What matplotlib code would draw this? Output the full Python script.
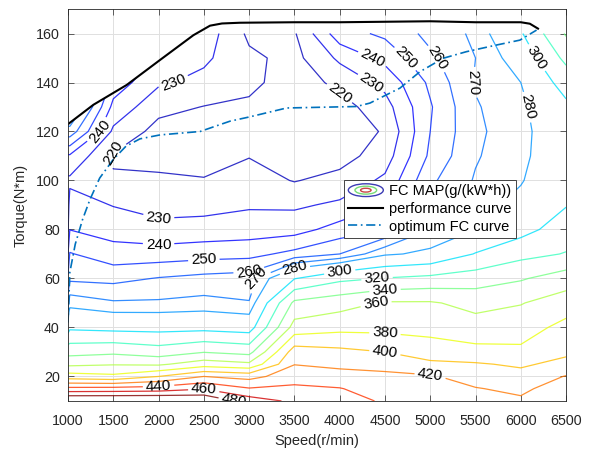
import numpy as np
import matplotlib
matplotlib.use("Agg")
import matplotlib.pyplot as plt
from matplotlib.colors import Normalize
from matplotlib.patches import Ellipse, Polygon
from matplotlib.legend_handler import HandlerBase
from matplotlib.lines import Line2D

plt.rcParams["font.family"] = ["Liberation Sans", "DejaVu Sans"]

# fuel consumption map, g/(kW*h)
speed = [1000, 1020, 1500, 2000, 2500, 3000, 3500, 4000, 4500, 5000, 5500, 6000, 6500]
torque = [10, 15, 20, 25, 30, 40, 50, 60, 70, 80, 90, 100, 110, 120, 130, 140, 150, 160]
fc_10 = [505, 505, 505, 505, 500, 470, 456, 450, 437, 436, 428, 423, 440]
fc_15 = [446, 446, 447, 449, 458.5, 441.5, 444, 441, 430, 430, 421, 416, 430]
fc_20 = [389, 389, 384.4, 400, 420, 413, 431.6, 427, 424, 422, 412, 407, 421]
fc_25 = [355.6, 355.6, 358.6, 356.8, 370.3, 364, 419.4, 415.7, 414, 406, 402, 397, 406]
fc_30 = [332.7, 332.7, 335.9, 329.4, 339, 333.3, 410.1, 405, 400, 386, 386, 384, 396]
fc_40 = [290, 296.5, 293.9, 293.3, 294, 290.9, 367.7, 374, 374, 376, 368, 371, 386]
fc_50 = [265, 276, 271.3, 271.5, 273.1, 270.6, 344.5, 352, 362, 362, 354, 359, 370]
fc_60 = [252, 257.9, 257, 260.6, 263, 264.6, 299.2, 315.3, 321, 325, 330, 338, 350]
fc_70 = [240, 250.7, 244.3, 244.4, 246, 246.8, 252.9, 260, 278, 283, 301, 314, 321]
fc_80 = [229, 239.8, 235.8, 232.9, 233.9, 235.1, 236, 244.1, 250, 270, 280, 293, 310]
fc_90 = [226, 234.1, 229.6, 226.5, 226.7, 228.8, 228.4, 231.8, 240, 263, 275, 284, 299]
fc_100 = [228, 228, 220.9, 221.5, 220.6, 224.2, 219.5, 223.3, 232, 258, 271, 279, 293]
fc_110 = [238.5, 238.5, 219, 217, 216, 219.6, 215, 216, 225, 252, 269, 277, 291]
fc_120 = [266, 266, 228, 216.5, 215, 216, 213, 214, 221, 250, 268, 276, 292]
fc_130 = [285, 285, 237, 223, 219.7, 217.8, 213, 216, 226, 249, 269, 277, 296]
fc_140 = [300, 300, 246, 231.5, 227, 223, 214, 223, 233, 252, 271, 280, 308]
fc_150 = [310, 310, 255, 238, 232, 222, 217, 232, 243, 258, 270, 287, 325]
fc_160 = [320, 320, 265, 244, 236, 218, 219, 246, 252, 263, 272, 298, 342]
fc_levels = [220, 230, 240, 250, 260, 270, 280, 300, 320, 340, 360, 380, 400, 420, 440, 460, 480]

# external characteristic (max torque)
perf_speed = [1000, 1280, 1648, 2016, 2384, 2568, 2700, 2900, 3500, 4000, 4500, 5000, 5500, 6000, 6100, 6190]
perf_torque = [123, 130.9, 139, 149.2, 159.3, 163.2, 164.1, 164.4, 164.6, 164.6, 164.8, 165, 164.6, 164.6, 164, 162]

# optimum fuel consumption line
opt_speed = [1000, 1010, 1020, 1080, 1160, 1243, 1350, 1500, 1640, 1795, 2016, 2458, 2788, 3010,
             3414, 4186, 4334, 4518, 4665, 4886, 5143, 5401, 5732, 5990, 6174]
opt_torque = [42, 52, 62.5, 74, 84, 92.3, 101, 108.6, 114, 117, 118.6, 120, 124.2, 126,
              129.6, 130.2, 131.6, 135, 137.7, 144.4, 149.9, 152.6, 155.3, 157.3, 161.4]

# where the contour labels sit
lab_level = [230, 240, 220, 230, 240, 250, 260, 270, 280, 300, 320, 340, 360, 380, 400, 420,
             440, 460, 480, 220, 230, 240, 250, 260, 270, 280, 300]
lab_x = [2220, 1320, 1500, 1800, 2150, 2650, 2900, 3100, 3430, 4180, 4260, 4334, 4444, 4610, 4592, 4776,
         2000, 2600, 2680, 4003, 4187, 4371, 4630, 5033, 5456, 6210, 6266]
lab_y = [142, 120, 114, 85, 72.7, 68, 64.5, 60, 63, 62, 58, 54.5, 51, 37, 29.4, 20,
         15.5, 13, 10.8, 135, 143.8, 147.8, 150, 147, 138.4, 133, 148]

fc = np.array([fc_10, fc_15, fc_20, fc_25, fc_30, fc_40, fc_50, fc_60, fc_70, fc_80, fc_90,
               fc_100, fc_110, fc_120, fc_130, fc_140, fc_150, fc_160])


class MapIcon(HandlerBase):
    # little concentric ellipses like matlab's contour legend icon
    def create_artists(self, legend, orig_handle, xdescent, ydescent, width, height, fontsize, trans):
        cx = width / 2 - xdescent
        cy = height / 2 - ydescent
        out = []
        for f, c in [(1.0, "#3c3cb4"), (0.62, "#78dc78"), (0.3, "#c84646")]:
            out.append(Ellipse((cx, cy), width * f, height * 1.25 * f, fill=False,
                               edgecolor=c, lw=1.0, transform=trans))
        return out


fig = plt.figure(figsize=(5.94, 4.51), dpi=100)
ax = fig.add_axes([0.1145, 0.111, 0.8385, 0.869])
ax.set_xlim(1000, 6500)
ax.set_ylim(10, 170)

cs = ax.contour(speed, torque, fc, levels=fc_levels, cmap="jet",
                norm=Normalize(205, 480), linewidths=0.9, alpha=0.8)
clip = Polygon(np.column_stack([[1000] + perf_speed + [6500, 6500],
                                [10] + perf_torque + [171, 10]]),
               transform=ax.transData)
cs.set_clip_path(clip)

# snap each label spot onto its own level so clabel picks the right line
for lev, x, y in zip(lab_level, lab_x, lab_y):
    verts = cs.get_paths()[fc_levels.index(lev)].vertices
    if len(verts) == 0:
        continue
    pix = ax.transData.transform(verts)
    p0 = ax.transData.transform((x, y))
    k = np.argmin(((pix - p0) ** 2).sum(axis=1))
    ax.clabel(cs, manual=[tuple(verts[k])], fmt="%d", fontsize=11,
              colors="k", inline=True, inline_spacing=3)

# labels should be solid black, not faded like the lines
for t in ax.texts:
    t.set_alpha(1.0)
    t.set_color("k")

perf, = ax.plot(perf_speed, perf_torque, color="k", lw=1.5)
opt, = ax.plot(opt_speed, opt_torque, color="#0072BD", lw=1.2,
               linestyle=(0, (5.5, 2.2, 1.0, 2.2)))

ax.set_xticks(np.arange(1000, 6501, 500))
ax.set_yticks(np.arange(20, 161, 20))
ax.grid(True, color="#e0e0e0", lw=0.7)
ax.set_axisbelow(True)
ax.tick_params(direction="in", top=True, right=True, length=4, width=0.5,
               colors="0.15", labelsize=10.3)
ax.tick_params(axis="x", pad=9.5)
ax.tick_params(axis="y", pad=6)
for s in ax.spines.values():
    s.set_color("0.15")
    s.set_linewidth(0.6)
ax.set_xlabel("Speed(r/min)", fontsize=10.5, color="0.15", labelpad=4)
ax.set_ylabel("Torque(N*m)", fontsize=10.5, color="0.15", labelpad=6)

icon = Line2D([], [])
leg = ax.legend([icon, perf, opt], ["FC MAP(g/(kW*h))", "performance curve", "optimum FC curve"],
                handler_map={icon: MapIcon()}, loc="upper left", bbox_to_anchor=(0.554, 0.564),
                fancybox=False, edgecolor="0.15", framealpha=1, fontsize=10.5,
                handlelength=2.4, borderpad=0.3, labelspacing=0.25, handletextpad=0.4,
                borderaxespad=0)
leg.get_frame().set_linewidth(0.6)

fig.savefig("out.png", dpi=100)
